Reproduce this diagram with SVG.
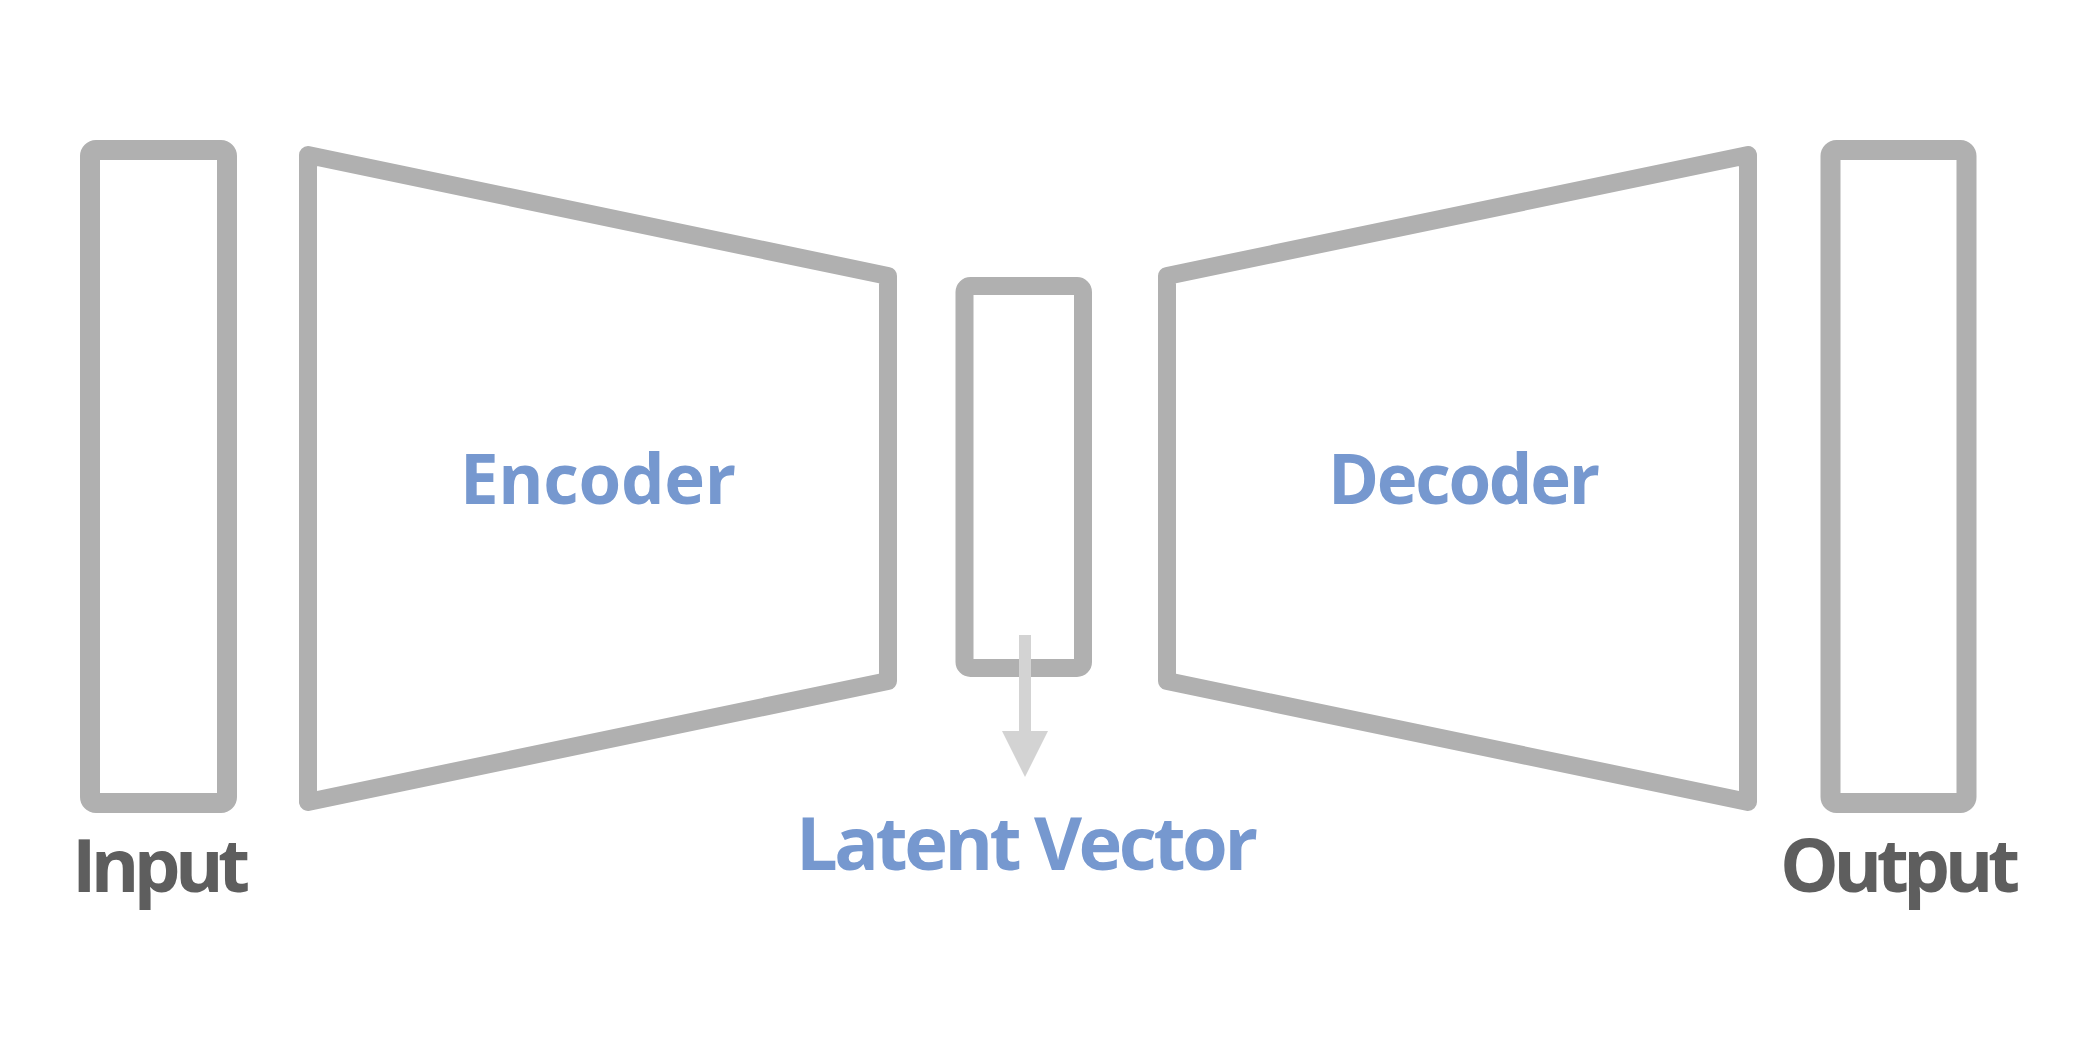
<svg xmlns="http://www.w3.org/2000/svg" width="2080" height="1064" viewBox="0 0 2080 1064">
  <style>
    .box { fill: none; stroke: #b0b0b0; stroke-linejoin: round; }
    .io { stroke-width: 20; }
    .thin { stroke-width: 18; }
    .lbl { font-family: "Open Sans", "Noto Sans", "Liberation Sans", sans-serif; font-weight: 700; text-anchor: middle; }
    .blue { fill: #7698cf; }
    .grey { fill: #5e5e5e; }
    .conn { stroke: #d3d3d3; stroke-width: 12; fill: none; }
  </style>
  <defs>
    <marker id="arrow" markerUnits="userSpaceOnUse" markerWidth="46" markerHeight="46" refX="0" refY="23" orient="auto">
      <path d="M0,0 L46,23 L0,46 Z" fill="#d3d3d3"/>
    </marker>
  </defs>
  <rect width="2080" height="1064" fill="#ffffff"/>

  <g id="input">
    <rect class="box io" x="90" y="150" width="137" height="653" rx="6"/>
    <text class="lbl grey" x="161" y="892" font-size="74" textLength="178">Input</text>
  </g>

  <g id="encoder">
    <path class="box thin" d="M308,155 L888,276 L888,681 L308,802 Z"/>
    <text class="lbl blue" x="598" y="504" font-size="69" textLength="276">Encoder</text>
  </g>

  <g id="latent">
    <rect class="box thin" x="964.5" y="286" width="118.5" height="382" rx="6"/>
    <text class="lbl blue" x="1027" y="870" font-size="74" textLength="462">Latent Vector</text>
  </g>

  <g id="decoder">
    <path class="box thin" d="M1167,276 L1748,155 L1748,802 L1167,681 Z"/>
    <text class="lbl blue" x="1464" y="504" font-size="69" textLength="272">Decoder</text>
  </g>

  <g id="output">
    <rect class="box io" x="1830.5" y="150" width="136" height="653" rx="6"/>
    <text class="lbl grey" x="1900" y="892" font-size="74" textLength="240">Output</text>
  </g>

  <g id="connectors">
    <line class="conn" x1="1025" y1="635" x2="1025" y2="731" marker-end="url(#arrow)"/>
  </g>
</svg>
